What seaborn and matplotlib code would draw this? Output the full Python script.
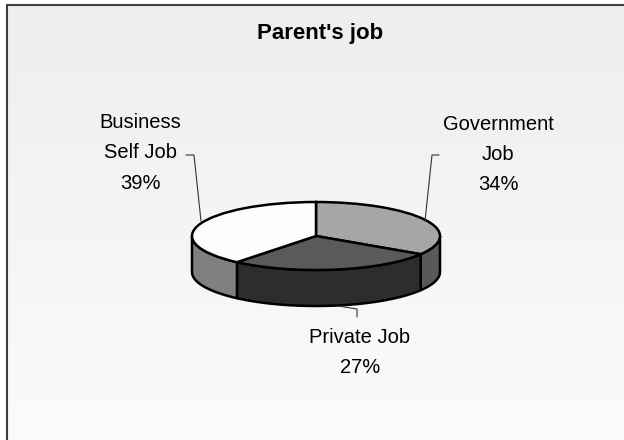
import numpy as np
import matplotlib
matplotlib.use("Agg")
import matplotlib.pyplot as plt
import seaborn as sns

# Parent's job shares
jobs = ["Government\nJob", "Private Job", "Business\nSelf Job"]
shares = [34, 27, 39]
top_colors = ["#a6a6a6", "#5a5a5a", "#fdfdfd"]
side_colors = ["#595959", "#2d2d2d", "#808080"]

sns.set_theme(style="white")
plt.rcParams["font.family"] = ["Liberation Sans", "DejaVu Sans"]

W, H = 624, 440
CX, CY, RX, RY, DEPTH = 316, 236, 124, 34, 36

fig = plt.figure(figsize=(W / 100, H / 100), dpi=100, facecolor="white")

# pixel axes for the background and frame
bg = fig.add_axes([0, 0, 1, 1])
grad = np.linspace(0, 1, 200).reshape(-1, 1)
bg.imshow(grad, extent=(7, W, H, 5), cmap=sns.blend_palette(["#eeeeee", "#fbfbfb"], as_cmap=True),
          aspect="auto", zorder=0)
bg.set_xlim(0, W)
bg.set_ylim(H, 0)
bg.axis("off")
bg.plot([7, 7, W], [H, 5.5, 5.5], color="#404040", lw=1.5, zorder=1, solid_joinstyle="miter")

# pie axes: one data unit is one radius, squashed into an ellipse
ax = fig.add_axes([0, 0, 1, 1], facecolor="none")
ax.pie(shares, colors=top_colors, startangle=90, counterclock=False, radius=1,
       wedgeprops={"edgecolor": "black", "linewidth": 1.8, "zorder": 3})
ax.set_aspect("auto")
ax.set_xlim(-CX / RX, (W - CX) / RX)
ax.set_ylim((CY - H) / RY, CY / RY)
ax.axis("off")

# side walls, only the front half of the rim shows
depth = DEPTH / RY
edges = 90 - 3.6 * np.cumsum([0] + shares)
for start, end, col in zip(edges[:-1], edges[1:], side_colors):
    th = np.radians(np.linspace(min(start, 0), max(end, -180), 60))
    x = np.cos(th)
    y = np.sin(th)
    ax.fill(np.r_[x, x[::-1]], np.r_[y, y[::-1] - depth], facecolor=col,
            edgecolor="black", lw=1.8, zorder=2, joinstyle="round")

# title, labels and leader lines
pct = [f"{s}%" for s in shares]
txt = fig.add_axes([0, 0, 1, 1], facecolor="none")
txt.set_xlim(0, W)
txt.set_ylim(H, 0)
txt.axis("off")
txt.text(320, 33.5, "Parent's job", ha="center", va="center", fontsize=16, fontweight="bold", color="black")
txt.text(498, 154.5, jobs[0] + "\n" + pct[0], ha="center", va="center", fontsize=14.5, linespacing=1.75, color="black")
txt.text(360, 352.5, jobs[1] + "\n" + pct[1], ha="center", va="center", fontsize=14.5, linespacing=1.75, color="black")
txt.text(140, 153, jobs[2] + "\n" + pct[2], ha="center", va="center", fontsize=14.5, linespacing=1.75, color="black")
for xs, ys in [([425, 432, 439], [221, 155, 155]),
               ([201, 194, 186], [221, 155, 155]),
               ([338, 357, 357], [306, 309, 317])]:
    txt.plot(xs, ys, color="#333333", lw=0.8)

fig.savefig("out.png", dpi=100)
